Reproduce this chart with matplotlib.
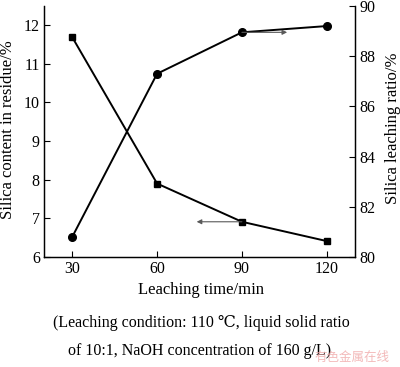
import matplotlib
matplotlib.use("Agg")
import matplotlib.pyplot as plt

plt.rcParams['font.family'] = ['Liberation Serif', 'DejaVu Serif']
plt.rcParams['mathtext.fontset'] = 'stix'

time = [30, 60, 90, 120]
silica_content = [11.69, 7.90, 6.91, 6.41]    # left axis, squares
leaching_ratio = [80.8, 87.3, 88.95, 89.2]    # right axis, circles

fig = plt.figure(figsize=(4.0, 3.67), dpi=100)
ax = fig.add_axes([0.11, 0.30, 0.7775, 0.6837])
ax2 = ax.twinx()

ax.plot(time, silica_content, 'k-', marker='s', ms=5, lw=1.4)
ax2.plot(time, leaching_ratio, 'k-', marker='o', ms=5.5, lw=1.4)

ax.set_xlim(20, 130)
ax.set_ylim(6, 12.5)
ax2.set_ylim(80, 90)
ax.set_xticks(time)
ax.set_yticks([6, 7, 8, 9, 10, 11, 12])
ax2.set_yticks([80, 82, 84, 86, 88, 90])

for a in (ax, ax2):
    a.spines['top'].set_visible(False)
    a.tick_params(direction='in', length=4, width=0.8, labelsize=11.5, pad=3)
    for s in a.spines.values():
        s.set_linewidth(0.9)

# arrows pointing to the matching axis
ax.annotate('', xy=(74, 6.91), xytext=(90, 6.91),
            arrowprops=dict(arrowstyle='-|>', color='0.35', lw=0.8,
                            mutation_scale=7, shrinkA=0, shrinkB=0))
ax2.annotate('', xy=(106, 88.95), xytext=(90, 88.95),
             arrowprops=dict(arrowstyle='-|>', color='0.35', lw=0.8,
                             mutation_scale=7, shrinkA=0, shrinkB=0))

fig.text(0.02, 0.648, 'Silica content in residue/%', rotation=90,
         ha='center', va='center', fontsize=12)
fig.text(0.982, 0.65, 'Silica leaching ratio/%', rotation=90,
         ha='center', va='center', fontsize=12)
fig.text(0.503, 0.21, 'Leaching time/min', ha='center', va='center', fontsize=12)
fig.text(0.503, 0.12, '(Leaching condition: 110 \u2103, liquid solid ratio',
         ha='center', va='center', fontsize=11.5)
fig.text(0.5, 0.043, 'of 10:1, NaOH concentration of 160 g/L)',
         ha='center', va='center', fontsize=11.5)
fig.text(0.785, 0.025, '有色金属在线', family=['Noto Sans CJK SC', 'DejaVu Sans'],
         color='#f0a8a8', alpha=0.8, fontsize=9, ha='left', va='center')

fig.savefig('out.png', dpi=100)
